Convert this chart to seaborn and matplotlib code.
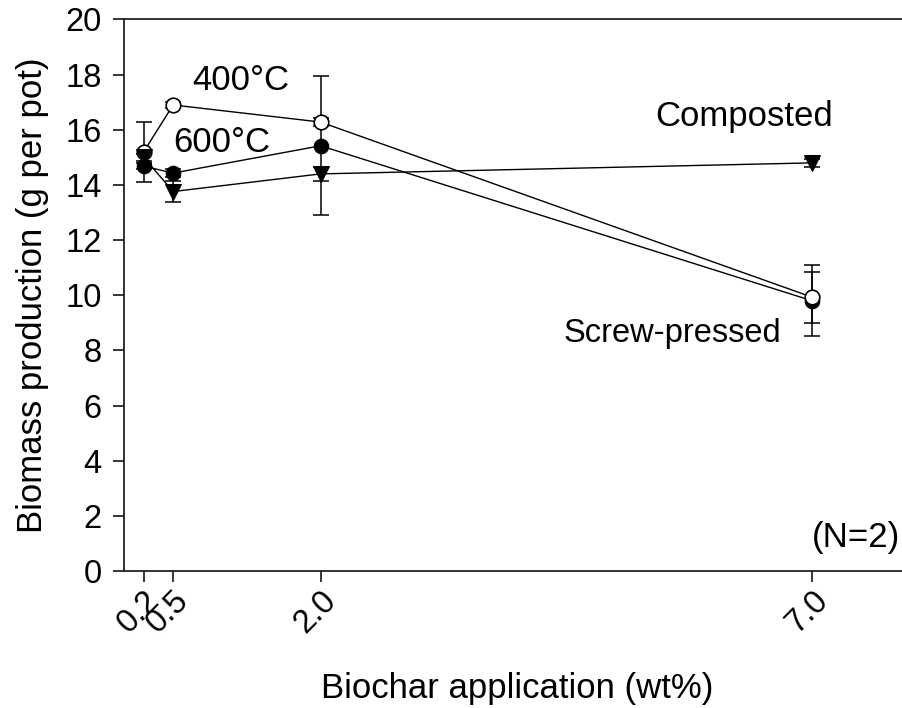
import matplotlib
matplotlib.use("Agg")
import matplotlib.pyplot as plt
import numpy as np
import pandas as pd
import seaborn as sns

# biochar application rates (wt%)
rate = [0.2, 0.5, 2.0, 7.0]

# 400 C screw-pressed (open circles)
b400 = [15.2, 16.9, 16.28, 9.93]
b400_err = [1.1, 0.1, 0.15, 0.92]

# 600 C screw-pressed (filled circles)
b600 = [14.68, 14.43, 15.42, 9.8]
b600_err = [0.1, 0.15, 2.52, 1.28]

# composted (filled triangles)
comp = [15.0, 13.76, 14.4, 14.8]
comp_err = [0.12, 0.38, 0.25, 0.15]

tick_labels = ["0.2", "0.5", "2.0", "7.0"]

sns.set_style("ticks")
plt.rcParams['font.family'] = ['Liberation Sans', 'DejaVu Sans']
plt.rcParams['text.color'] = 'black'
plt.rcParams['axes.labelcolor'] = 'black'

fig = plt.figure(figsize=(9.03, 7.08), dpi=100)
ax = fig.add_axes([0.1373, 0.1935, 0.8709, 0.779])

# error bars first
for y, e in [(b600, b600_err), (b400, b400_err), (comp, comp_err)]:
    ax.errorbar(rate, y, yerr=e, fmt='none', ecolor='black', elinewidth=1.1,
                capsize=6, capthick=1.1, zorder=2)

sns.lineplot(x=rate, y=b600, ax=ax, color='black', linewidth=1, marker='o',
             markersize=10.5, markerfacecolor='black', markeredgecolor='black', zorder=3)
sns.lineplot(x=rate, y=b400, ax=ax, color='black', linewidth=1, marker='o',
             markersize=10.5, markerfacecolor='white', markeredgecolor='black',
             markeredgewidth=1.2, zorder=4)
sns.lineplot(x=rate, y=comp, ax=ax, color='black', linewidth=1, marker='v',
             markersize=11.5, markerfacecolor='black', markeredgecolor='black', zorder=5)

ax.set_xlim(0, 8)
ax.set_ylim(0, 20)
ax.set_yticks(np.arange(0, 21, 2))
ax.set_xticks(rate)
ax.set_xticklabels(tick_labels, rotation=45, ha='right', va='top',
                   rotation_mode='anchor')

ax.tick_params(axis='both', direction='out', length=8, width=1.1, labelsize=23.5,
               colors='black')
ax.tick_params(axis='y', pad=8)
ax.tick_params(axis='x', pad=2)
for s in ax.spines.values():
    s.set_linewidth(1.3)
    s.set_color('#222222')

ax.set_xlabel("Biochar application (wt%)", fontsize=25, labelpad=24)
ax.set_ylabel("Biomass production (g per pot)", fontsize=25, labelpad=12)

ax.text(0.69, 17.78, "400°C", fontsize=25, ha='left', va='center')
ax.text(0.50, 15.54, "600°C", fontsize=25, ha='left', va='center')
ax.text(5.40, 16.48, "Composted", fontsize=25, ha='left', va='center')
ax.text(4.47, 8.6, "Screw-pressed", fontsize=23.5, ha='left', va='center')
ax.text(7.0, 1.2, "(N=2)", fontsize=25, ha='left', va='center')

fig.savefig("out.png", dpi=100)
